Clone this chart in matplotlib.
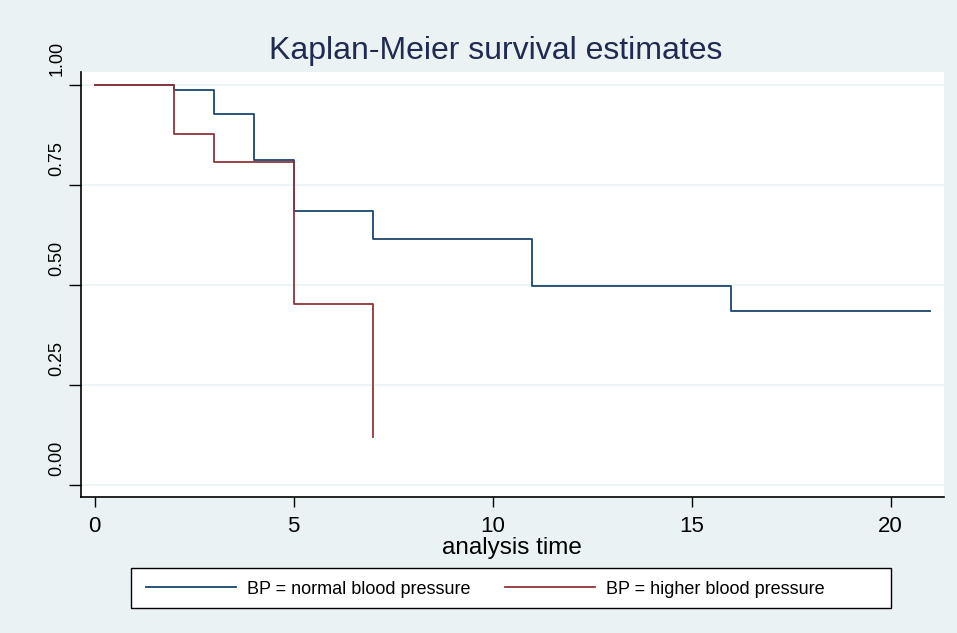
import matplotlib.pyplot as plt
from matplotlib.patches import Rectangle
from matplotlib.transforms import ScaledTranslation

# Kaplan-Meier step estimates
time_normal = [0, 2, 3, 4, 5, 7, 11, 16, 21]
surv_normal = [1.0, 0.987, 0.928, 0.813, 0.685, 0.614, 0.497, 0.435, 0.435]
time_high = [0, 2, 3, 5, 7]
surv_high = [1.0, 0.876, 0.808, 0.451, 0.12]

labels = ['BP = normal blood pressure', 'BP = higher blood pressure']
xticks = [0, 5, 10, 15, 20]
yticks = [0.0, 0.25, 0.5, 0.75, 1.0]
ytick_labels = ['0.00', '0.25', '0.50', '0.75', '1.00']

plt.rcParams['font.family'] = ['Liberation Sans', 'DejaVu Sans']

bg = '#eaf2f3'
navy = '#1a476f'
red = '#90353b'
W, H = 957, 633

fig = plt.figure(figsize=(W / 100, H / 100), dpi=100, facecolor=bg)
ax = fig.add_axes([80.7 / W, 1 - 497 / H, (944 - 80.7) / W, (497 - 72) / H])
ax.set_facecolor('white')

l1, = ax.step(time_normal, surv_normal, where='post', color=navy, lw=1.3)
l2, = ax.step(time_high, surv_high, where='post', color=red, lw=1.3)

ax.set_xlim(-0.35, 21.34)
ax.set_ylim(-0.031, 1.032)
ax.set_xticks(xticks)
ax.set_yticks(yticks)
ax.set_yticklabels(ytick_labels, rotation=90, va='center')
ax.tick_params(axis='x', labelsize=16, length=7.5, width=1, pad=6)
ax.tick_params(axis='y', labelsize=13, length=8.5, width=1, pad=2.5)
# Stata draws the y labels shifted up from their ticks
shift = ScaledTranslation(0, 26 / 100, fig.dpi_scale_trans)
for lab in ax.get_yticklabels():
  lab.set_transform(lab.get_transform() + shift)
ax.yaxis.grid(True, color=bg, lw=1.2)
ax.set_axisbelow(True)
for s in ['top', 'right']:
  ax.spines[s].set_visible(False)
ax.spines['left'].set_linewidth(1.2)
ax.spines['bottom'].set_linewidth(1.2)

fig.text(496 / W, 1 - 59 / H, 'Kaplan-Meier survival estimates', fontsize=23,
         color='#1f2b50', ha='center', va='baseline')
ax.set_xlabel('analysis time', fontsize=17.5, va='center')
ax.xaxis.set_label_coords(0.5, (497 - 548) / 425)

# legend box as Stata draws it, wider than its contents
fig.patches.append(Rectangle((131 / W, 1 - 608 / H), 760 / W, 40 / H,
                             transform=fig.transFigure, facecolor='white',
                             edgecolor='black', lw=1, zorder=1))
leg = fig.legend([l1, l2], labels, loc='center left',
                 bbox_to_anchor=(146 / W, 1 - 589 / H), ncol=2, frameon=False,
                 fontsize=13, handlelength=5.0, handletextpad=0.6,
                 columnspacing=1.9, borderpad=0, borderaxespad=0)
leg.set_zorder(2)

fig.savefig('out.png', dpi=100, facecolor=bg)
